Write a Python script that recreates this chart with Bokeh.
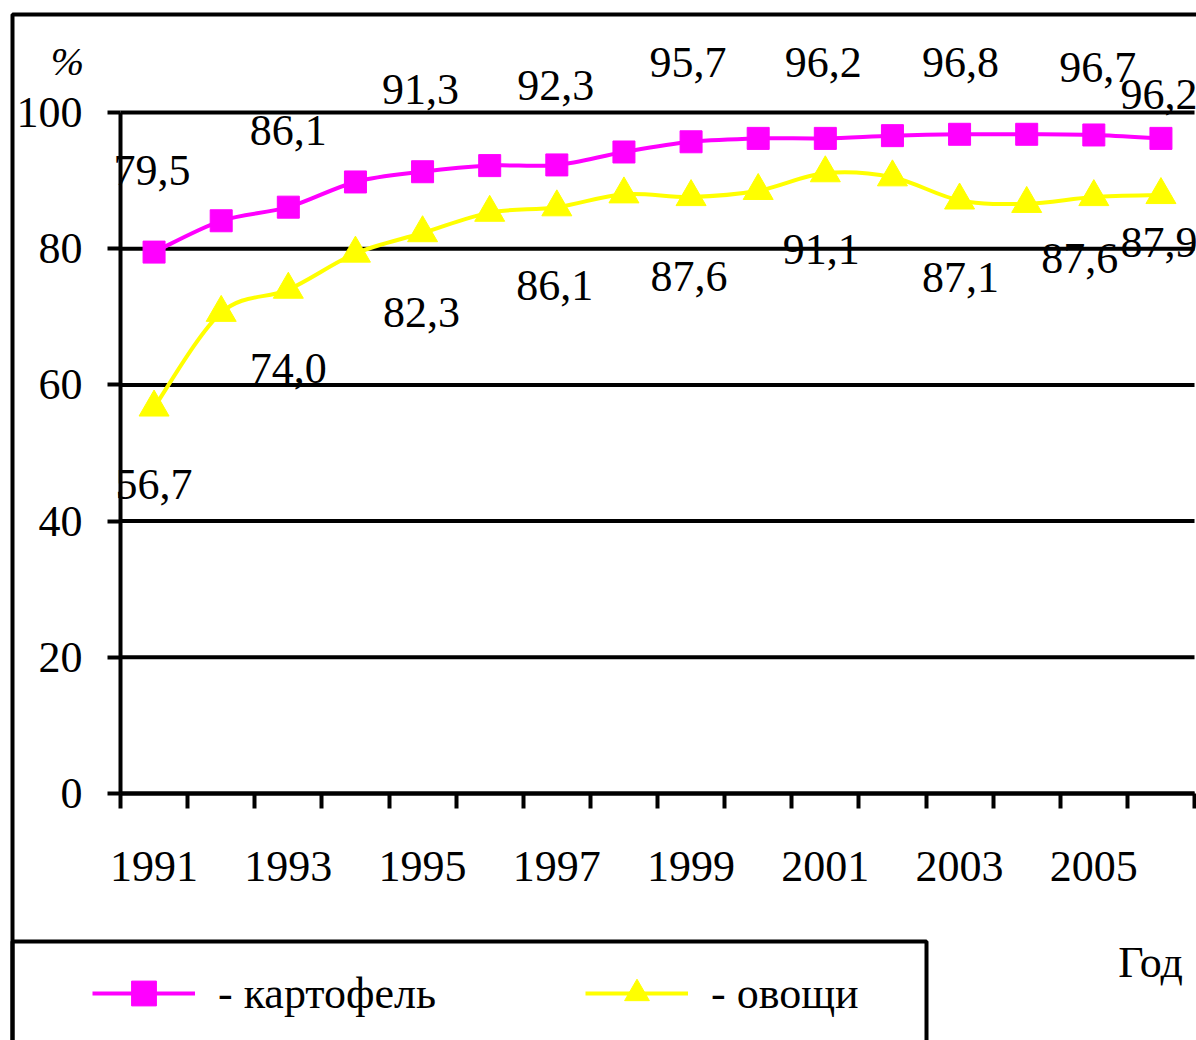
import numpy as np
from bokeh.plotting import figure
from bokeh.models import (ColumnDataSource, FixedTicker, LabelSet, Label, Legend,
                          LegendItem, BoxAnnotation, Range1d)
from bokeh.core.properties import value
from bokeh.embed import file_html
from bokeh.resources import INLINE

# ---------------- data ----------------
years = [1991, 1992, 1993, 1994, 1995, 1996, 1997, 1998,
         1999, 2000, 2001, 2002, 2003, 2004, 2005, 2006]
potato = [79.5, 84.1, 86.1, 89.8, 91.3, 92.2, 92.3, 94.2,
          95.7, 96.2, 96.2, 96.6, 96.8, 96.8, 96.7, 96.2]
vegetables = [56.7, 70.6, 74.0, 79.3, 82.3, 85.3, 86.1, 88.0,
              87.6, 88.5, 91.1, 90.5, 87.1, 86.6, 87.6, 87.9]
labelled_years = [1991, 1993, 1995, 1997, 1999, 2001, 2003, 2005, 2006]
x_tick_years = [1991, 1993, 1995, 1997, 1999, 2001, 2003, 2005]
x_tick_labels = ["1991", "1993", "1995", "1997", "1999", "2001", "2003", "2005"]
y_ticks = [0, 20, 40, 60, 80, 100]
series_names = ["- картофель", "- овощи"]
y_unit = "%"
x_unit = "Год"

# ---------------- layout / style ----------------
FONT = "Liberation Serif"
FS = "44px"
W, H = 1196, 1040
# where the axes' extremes sit on the canvas (px from top-left)
AX_L, AX_R = 120, 1194      # x = first-0.5 .. last+0.5
AX_T, AX_B = 112, 793       # y = 100 .. 0
MAGENTA = "#FF00FF"
YELLOW = "#FFFF00"

xa, xb = years[0] - 0.5, years[-1] + 0.5
ya, yb = y_ticks[0], y_ticks[-1]
sx = (AX_R - AX_L) / (xb - xa)
sy = (AX_B - AX_T) / (yb - ya)
# the frame fills the whole canvas; the axes are fixed inside it
x_range = Range1d(xa - AX_L / sx, xb + (W - AX_R) / sx)
y_range = Range1d(ya - (H - AX_B) / sy, yb + AX_T / sy)


def px_x(cx):
    """canvas pixel -> data x"""
    return xa + (cx - AX_L) / sx


def px_y(cy):
    """canvas pixel -> data y"""
    return ya + (AX_B - cy) / sy


# label offsets in screen px (layout only)
pot_dx = [-2, 0, -2, -1, -3, -2, 1, 4, -2]
pot_dy = [82, 77, 82, 79, 79, 76, 72, 67, 44]
veg_dx = [0, 0, -1, -2, -2, -4, 1, -14, -2]
veg_dy = [-77, -79, -79, -78, -80, -76, -77, -62, -48]

p = figure(width=W, height=H, x_range=x_range, y_range=y_range,
           output_backend="svg", toolbar_location=None, min_border=0)
p.outline_line_color = None
p.background_fill_color = "white"
p.border_fill_color = "white"
p.grid.visible = False

# horizontal grid lines between the axes
p.segment(x0=[xa] * len(y_ticks), x1=[xb] * len(y_ticks), y0=y_ticks, y1=y_ticks,
          line_color="black", line_width=4)

# x axis: tick marks between categories, labels on odd years
minor = [y - 0.5 for y in years] + [years[-1] + 0.5]
xax = p.xaxis[0]
xax.fixed_location = ya
xax.bounds = (xa, xb)
xax.ticker = FixedTicker(ticks=x_tick_years, minor_ticks=minor)
xax.major_label_overrides = {y: l for y, l in zip(x_tick_years, x_tick_labels)}
xax.major_tick_out = 0
xax.major_tick_in = 0
xax.minor_tick_out = 15
xax.minor_tick_in = 0
xax.minor_tick_line_width = 4
xax.minor_tick_line_color = "black"
xax.axis_line_width = 4
xax.axis_line_color = "black"
xax.major_label_text_font = FONT
xax.major_label_text_font_size = FS
xax.major_label_text_color = "black"
xax.major_label_standoff = 43

# y axis
yax = p.yaxis[0]
yax.fixed_location = xa
yax.bounds = (ya, yb)
yax.ticker = FixedTicker(ticks=y_ticks)
yax.major_tick_out = 13
yax.major_tick_in = 0
yax.major_tick_line_width = 4
yax.major_tick_line_color = "black"
yax.minor_tick_out = 0
yax.minor_tick_in = 0
yax.axis_line_width = 4
yax.axis_line_color = "black"
yax.major_label_text_font = FONT
yax.major_label_text_font_size = FS
yax.major_label_text_color = "black"
yax.major_label_standoff = 25


def smooth_source(xs, ys):
    """Cubic Bezier segments through the data points (Catmull-Rom tangents)."""
    xs = np.asarray(xs, float)
    ys = np.asarray(ys, float)
    n = len(xs)
    xp = np.concatenate([[xs[0]], xs, [xs[-1]]])
    yp = np.concatenate([[ys[0]], ys, [ys[-1]]])
    d = dict(x0=[], y0=[], x1=[], y1=[], cx0=[], cy0=[], cx1=[], cy1=[])
    for i in range(n - 1):
        P0x, P0y = xp[i], yp[i]
        P1x, P1y = xp[i + 1], yp[i + 1]
        P2x, P2y = xp[i + 2], yp[i + 2]
        P3x, P3y = xp[i + 3], yp[i + 3]
        d["x0"].append(P1x); d["y0"].append(P1y)
        d["x1"].append(P2x); d["y1"].append(P2y)
        d["cx0"].append(P1x + (P2x - P0x) / 6); d["cy0"].append(P1y + (P2y - P0y) / 6)
        d["cx1"].append(P2x - (P3x - P1x) / 6); d["cy1"].append(P2y - (P3y - P1y) / 6)
    return ColumnDataSource(d)


pot_curve = p.bezier(x0="x0", y0="y0", x1="x1", y1="y1", cx0="cx0", cy0="cy0",
                     cx1="cx1", cy1="cy1", source=smooth_source(years, potato),
                     line_color=MAGENTA, line_width=4)
veg_curve = p.bezier(x0="x0", y0="y0", x1="x1", y1="y1", cx0="cx0", cy0="cy0",
                     cx1="cx1", cy1="cy1", source=smooth_source(years, vegetables),
                     line_color=YELLOW, line_width=4)

src = ColumnDataSource(dict(year=years, potato=potato, veg=vegetables))
pot_pts = p.scatter("year", "potato", source=src, marker="square", size=22,
                    fill_color=MAGENTA, line_color=MAGENTA, line_width=1)
veg_pts = p.scatter("year", "veg", source=src, marker="triangle", size=30,
                    fill_color=YELLOW, line_color=YELLOW, line_width=1)


def fmt(v):
    return f"{v:.1f}".replace(".", ",")


idx = [years.index(y) for y in labelled_years]
lab_src = ColumnDataSource(dict(
    x=labelled_years,
    yp=[potato[i] for i in idx], tp=[fmt(potato[i]) for i in idx],
    yv=[vegetables[i] for i in idx], tv=[fmt(vegetables[i]) for i in idx],
    pdx=pot_dx, pdy=pot_dy, vdx=veg_dx, vdy=veg_dy))

for ycol, tcol, dxc, dyc in (("yp", "tp", "pdx", "pdy"), ("yv", "tv", "vdx", "vdy")):
    p.add_layout(LabelSet(x="x", y=ycol, text=tcol, x_offset=dxc, y_offset=dyc,
                          source=lab_src, text_font=value(FONT), text_font_size=FS,
                          text_color="black", text_align="center",
                          text_baseline="middle"))

p.add_layout(Label(x=px_x(67), y=px_y(61), text=y_unit, text_font=FONT,
                   text_font_size="40px", text_font_style="italic",
                   text_align="center", text_baseline="middle", text_color="black"))
p.add_layout(Label(x=px_x(1150), y=px_y(962), text=x_unit, text_font=FONT,
                   text_font_size=FS, text_align="center", text_baseline="middle",
                   text_color="black"))

# outer frame and legend frame
p.add_layout(BoxAnnotation(left=px_x(12), right=px_x(1400), top=px_y(14), bottom=px_y(1300),
                           fill_alpha=0, line_color="black", line_width=4, line_alpha=1))
p.add_layout(BoxAnnotation(left=px_x(12), right=px_x(926), top=px_y(941), bottom=px_y(1300),
                           fill_alpha=0, line_color="black", line_width=4, line_alpha=1))

legend = Legend(items=[LegendItem(label=series_names[0], renderers=[pot_curve, pot_pts]),
                       LegendItem(label=series_names[1], renderers=[veg_curve, veg_pts])],
                orientation="horizontal", location=(69, H - 1047),
                padding=23, spacing=0, margin=0, glyph_width=103, glyph_height=62,
                label_standoff=23, label_width=367, border_line_alpha=0,
                background_fill_alpha=0, label_text_font=FONT,
                label_text_font_size=FS, label_text_color="black")
p.add_layout(legend)

open("out.html", "w").write(file_html(p, INLINE))
